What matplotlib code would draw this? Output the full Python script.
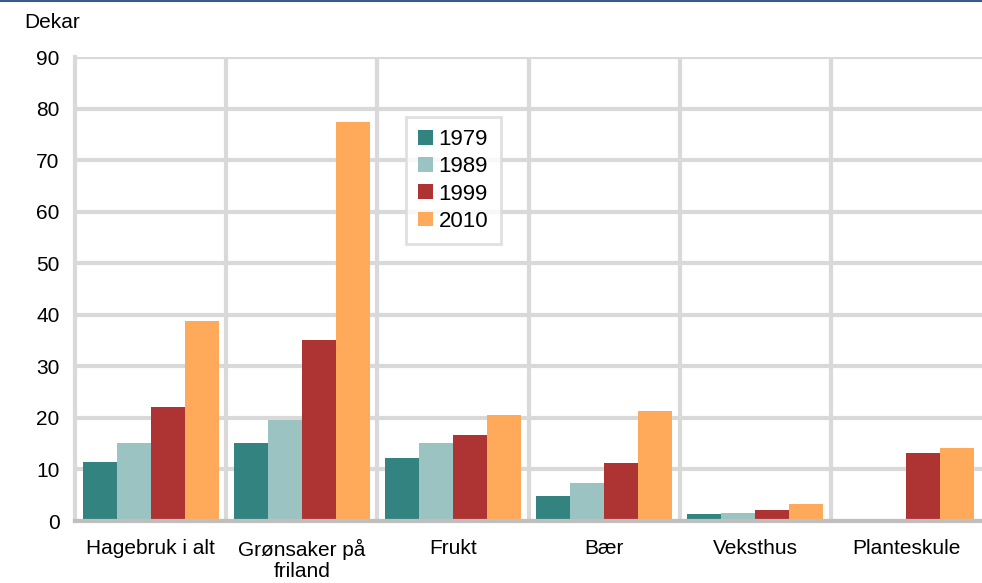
import numpy as np
import matplotlib.pyplot as plt
from matplotlib.ticker import FixedLocator

plt.rcParams['font.family'] = ['Liberation Sans', 'DejaVu Sans']

categories = ["Hagebruk i alt", "Grønsaker på\nfriland", "Frukt", "Bær", "Veksthus", "Planteskule"]
years = ["1979", "1989", "1999", "2010"]
v1979 = [11.4, 15.1, 12.2, 4.9, 1.3, 0]
v1989 = [15.2, 19.6, 15.1, 7.4, 1.6, 0]
v1999 = [22.2, 35.1, 16.7, 11.3, 2.1, 13.2]
v2010 = [38.8, 77.4, 20.6, 21.3, 3.3, 14.1]
colors = ['#338480', '#9bc3c2', '#ae3333', '#ffaa5a']

fig = plt.figure(figsize=(9.82, 5.83), dpi=100)
ax = fig.add_axes([0.0764, 0.1063, 0.9236, 0.7959])

x = np.arange(len(categories))
w = 0.225
series = [v1979, v1989, v1999, v2010]
for i, vals in enumerate(series):
    ax.bar(x + (i - 1.5) * w, vals, width=w, color=colors[i], label=years[i], zorder=3)

ax.set_xlim(-0.5, len(categories) - 0.5)
ax.set_ylim(0, 90)
ax.set_yticks(range(0, 91, 10))
ax.set_xticks(x)
ax.set_xticklabels(categories, fontsize=15, linespacing=1.12)
ax.xaxis.set_minor_locator(FixedLocator(np.arange(0.5, len(categories) - 0.5, 1)))
ax.tick_params(axis='y', labelsize=15, length=0, pad=11)
ax.tick_params(axis='x', which='both', length=0, pad=13)

ax.grid(axis='y', color='#d9d9d9', linewidth=3, zorder=0)
ax.grid(axis='x', which='minor', color='#d9d9d9', linewidth=3, zorder=0)

for s in ['top', 'right']:
    ax.spines[s].set_visible(False)
ax.spines['left'].set_color('#d9d9d9')
ax.spines['left'].set_linewidth(3)
ax.spines['bottom'].set_color('#bfbfbf')
ax.spines['bottom'].set_linewidth(3)
ax.spines['bottom'].set_zorder(4)

leg = ax.legend(loc='upper left', bbox_to_anchor=(0.365, 0.871), fontsize=16,
                handlelength=0.65, handleheight=0.65, handletextpad=0.27,
                labelspacing=0.28, fancybox=False, borderpad=0.55, borderaxespad=0)
leg.get_frame().set_edgecolor('#d9d9d9')
leg.get_frame().set_linewidth(2)

fig.text(0.025, 0.962, "Dekar", fontsize=15, va='center')
fig.add_artist(plt.Line2D([0, 1], [0.999, 0.999], color='#3b5a8a', linewidth=1.5))

fig.savefig('out.png', dpi=100)
